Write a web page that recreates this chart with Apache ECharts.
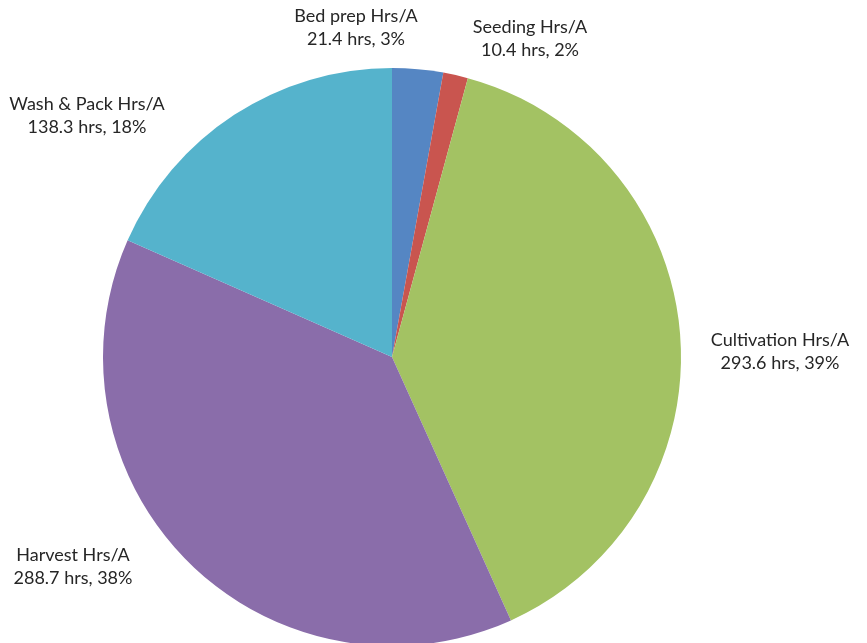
<!DOCTYPE html>
<html>
<head>
<meta charset="utf-8">
<script src="https://cdn.jsdelivr.net/npm/echarts@6/dist/echarts.min.js"></script>
<style>html,body{margin:0;padding:0;background:#fff}#c{width:867px;height:643px}</style>
</head>
<body>
<div id="c"></div>
<script>
const categories = ['Bed prep Hrs/A', 'Seeding Hrs/A', 'Cultivation Hrs/A', 'Harvest Hrs/A', 'Wash & Pack Hrs/A'];
const hours = [21.4, 10.4, 293.6, 288.7, 138.3];
const percentLabels = ['3%', '2%', '39%', '38%', '18%'];
const colors = ['#5586C3', '#C9554F', '#A3C263', '#8A6DAA', '#55B3CC'];
const labelAnchors = [[356, 5], [530, 16], [87, 93], [780, 329], [73, 544]];
const anchorIndex = [0, 1, 3, 4, 2];

const chart = echarts.init(document.getElementById('c'));
chart.setOption({
  animation: false,
  series: [{
    type: 'pie',
    center: [392, 357],
    radius: 289,
    startAngle: 90,
    clockwise: true,
    data: categories.map((n, i) => ({ name: n, value: hours[i], itemStyle: { color: colors[i] } })),
    itemStyle: { borderColor: '#fff', borderWidth: 0 },
    label: {
      show: true,
      position: 'outside',
      overflow: 'none',
      formatter: p => p.name + '\n' + p.value + ' hrs, ' + percentLabels[p.dataIndex],
      fontFamily: 'Lato',
      fontSize: 18,
      lineHeight: 23,
      color: '#262626',
      align: 'center'
    },
    labelLine: { show: false },
    labelLayout: p => {
      const a = labelAnchors[anchorIndex[p.dataIndex]];
      return { x: a[0], y: a[1], align: 'center', verticalAlign: 'top' };
    }
  }]
});
</script>
</body>
</html>
